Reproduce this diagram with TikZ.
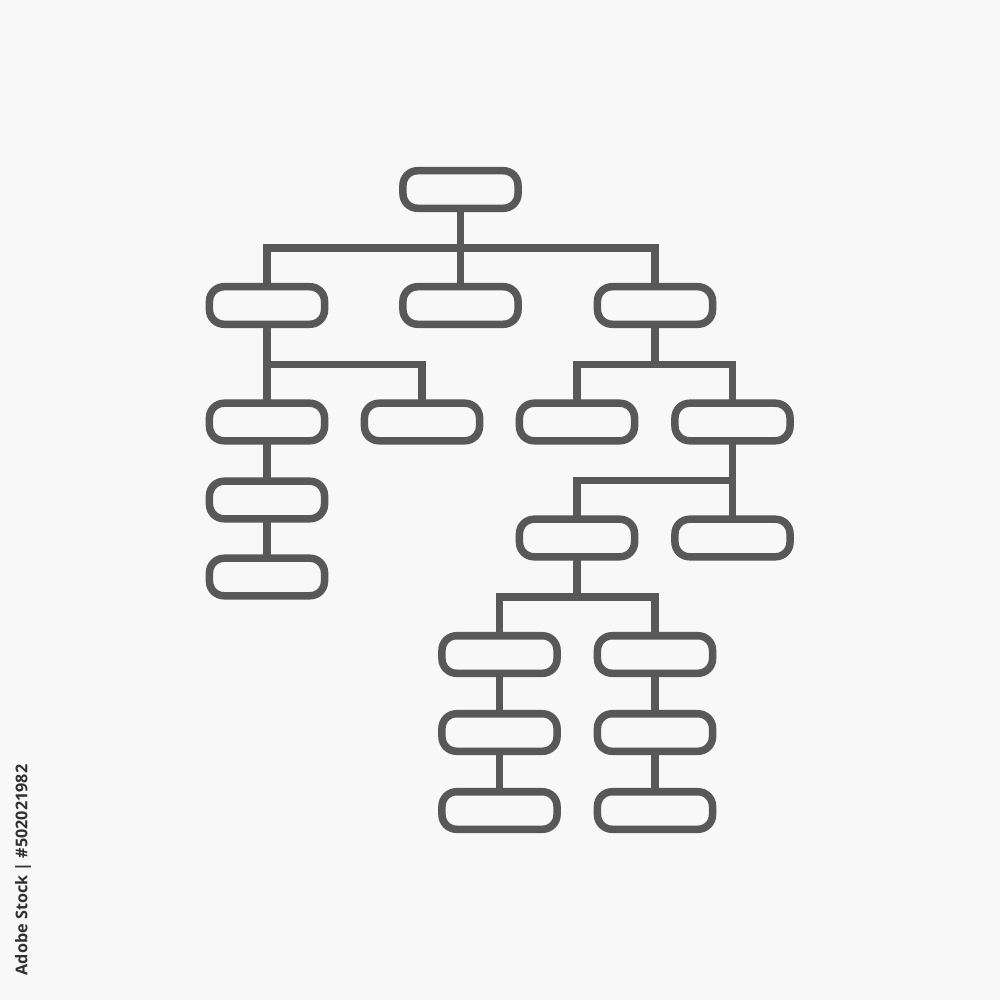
\documentclass[tikz,border=0pt]{standalone}
\usepackage{fontspec}
\newfontfamily\wmfont{Open Sans}
\definecolor{bg}{HTML}{F8F8F8}
\definecolor{ink}{HTML}{585858}
\definecolor{wm}{HTML}{303030}
\begin{document}
\begin{tikzpicture}[x=0.01cm,y=-0.01cm,
  box/.style={draw=ink,line width=0.075cm,rectangle,rounded corners=0.145cm,
    minimum width=1.15cm,minimum height=0.375cm,inner sep=0pt,outer sep=0pt},
  link/.style={draw=ink,line width=0.075cm}]
\fill[bg] (0,0) rectangle (1000,1000);
\useasboundingbox (0,0) rectangle (1000,1000);
% nodes
\node[box] (r) at (460.5,189.5) {};
\node[box] (a) at (267,305.5) {};
\node[box] (b) at (460.5,305.5) {};
\node[box] (c) at (655,305.5) {};
\node[box] (a1) at (267,422) {};
\node[box] (a2) at (422,422) {};
\node[box] (a3) at (267,500) {};
\node[box] (a4) at (267,577) {};
\node[box] (c1) at (577,422) {};
\node[box] (c2) at (732.5,422) {};
\node[box] (d1) at (577,538) {};
\node[box] (d2) at (732.5,538) {};
\node[box] (e1) at (499.5,654.5) {};
\node[box] (e2) at (655,654.5) {};
\node[box] (e3) at (499.5,732.5) {};
\node[box] (e4) at (655,732.5) {};
\node[box] (e5) at (499.5,810.5) {};
\node[box] (e6) at (655,810.5) {};
% connectors
\draw[link] (r.south) -- (b.north);
\draw[link] (a.north) -- (a.north |- 0,248) -| (c.north);
\draw[link] (a.south) -- (a1.north);
\draw[link] (a1.south) -- (a3.north);
\draw[link] (a3.south) -- (a4.north);
\draw[link] (a.south |- 0,364.5) -| (a2.north);
\draw[link] (c.south) -- (c.south |- 0,364.5);
\draw[link] (c1.north) -- (c1.north |- 0,364.5) -| (c2.north);
\draw[link] (c2.south) -- (d2.north);
\draw[link] (c2.south |- 0,480.5) -| (d1.north);
\draw[link] (d1.south) -- (d1.south |- 0,597);
\draw[link] (e1.north) -- (e1.north |- 0,597) -| (e2.north);
\draw[link] (e1.south) -- (e3.north);
\draw[link] (e3.south) -- (e5.north);
\draw[link] (e2.south) -- (e4.north);
\draw[link] (e4.south) -- (e6.north);
% stock label
\node[rotate=90,text=wm,font=\wmfont\bfseries\fontsize{4.6pt}{5.5pt}\selectfont,inner sep=0pt] (lbl) at (23,870) {Adobe Stock | \#502021982};
\end{tikzpicture}
\end{document}
